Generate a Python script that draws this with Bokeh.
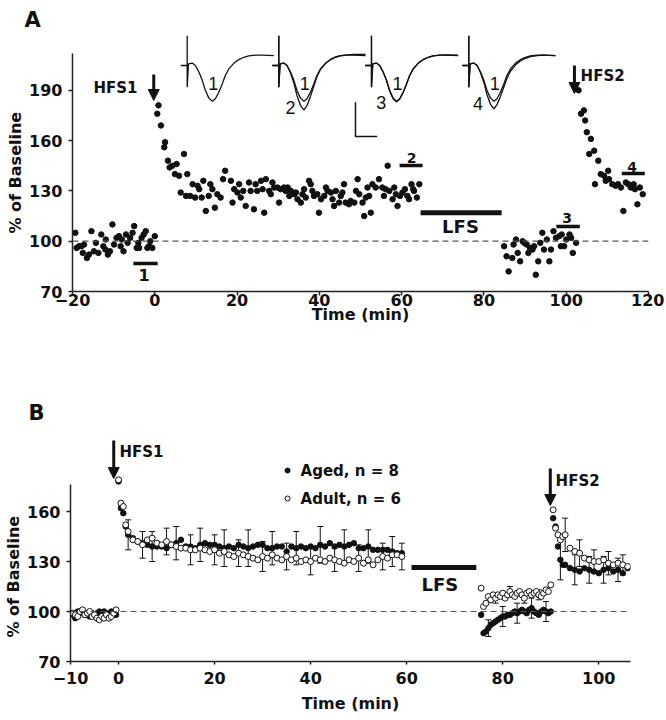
from bokeh.plotting import figure
from bokeh.models import (Range1d, FixedTicker, Span, Arrow, NormalHead, Label, Title,
                          ColumnDataSource, Whisker, TeeHead)
from bokeh.embed import file_html
from bokeh.resources import INLINE

FONT = "DejaVu Sans"
INK = "#111111"

# ======================= Panel A data (single experiment) =======================
a_baseline = [(-19.3,105),(-19.0,96),(-18.4,97),(-17.8,97),(-17.5,93),(-17.2,98),(-16.5,90),
              (-16.0,92),(-15.4,106),(-14.8,94),(-14.3,99),(-13.7,93),(-13.0,104),(-12.5,97),
              (-12.0,95),(-11.9,101),(-11.4,92),(-10.9,94),(-10.3,110),(-9.9,98),(-9.3,102),
              (-8.7,103),(-8.3,97),(-8.0,101),(-7.6,94),(-7.0,104),(-6.6,99),(-6.0,102),
              (-5.4,105),(-5.0,109),(-4.4,96),(-4.0,99),(-3.8,96),(-3.2,102),(-2.7,104),
              (-2.2,106),(-1.8,96),(-1.4,97),(-1.1,100),(-0.6,96),(0.0,103)]
a_after_hfs1 = [(0.6,176),(0.9,181),(1.5,169),(2.3,156),(2.5,159),(3.2,148),(3.6,144),(4.3,145),
                (4.9,140),(5.3,146),(5.9,139),(6.3,129),(7.1,152),(7.6,127),(7.9,140),(8.6,127),
                (9.2,134),(9.8,126),(10.4,133),(10.8,131),(11.4,126),(11.8,136),(12.4,118),
                (13.1,127),(13.5,134),(14.0,131),(14.6,120),(15.2,128),(16.0,126),(16.6,137),
                (17.1,142),(18.5,136),(18.9,123),(19.3,131),(20.1,129),(20.5,134),(20.9,126),
                (21.5,130),(22.1,121),(22.9,135),(23.3,130),(24.1,119),(24.5,134),(24.9,130),
                (25.8,136),(26.2,131),(26.6,117),(27.0,137),(27.8,130),(28.2,128),(28.6,135),
                (29.0,132),(29.8,132),(30.2,123),(30.6,131),(31.4,132),(31.8,130),(32.3,132),
                (32.7,127),(33.1,130),(33.9,128),(34.3,129),(34.7,125),(35.5,123),(35.9,128),
                (36.3,131),(36.7,126),(37.5,136),(37.9,134),(38.3,130),(38.7,127),(39.5,128),
                (39.9,117),(40.4,125),(41.2,127),(41.6,132),(42.0,130),(42.8,129),(43.2,125),
                (43.6,121),(44.0,130),(44.8,123),(45.2,127),(45.6,129),(46.0,134),(46.4,123),
                (47.2,122),(47.6,124),(48.5,123),(48.9,130),(49.3,137),(49.7,128),(50.5,123),
                (50.9,115),(51.3,126),(51.7,132),(52.1,127),(52.5,117),(52.9,134),(53.7,132),
                (54.5,137),(55.3,132),(55.7,127),(56.1,131),(56.6,145),(57.0,130),(57.8,125),
                (58.2,132),(58.6,128),(59.0,121),(59.6,127),(60.2,129),(60.8,131),(61.4,127),
                (61.8,125),(62.4,134),(62.8,131),(63.0,130),(63.7,126),(64.3,134)]
a_after_lfs = [(84.9,97),(85.5,91),(86.0,82),(86.9,90),(87.2,98),(87.8,101),(88.2,93),(88.8,88),
               (89.4,100),(89.8,99),(90.4,98),(90.8,93),(91.2,96),(91.8,95),(92.2,97),(92.6,80),
               (93.2,88),(93.7,99),(94.2,105),(94.6,95),(95.3,101),(95.9,88),(96.3,95),(96.9,106),
               (97.5,102),(98.3,103),(98.7,97),(98.9,104),(99.5,97),(100.0,101),(100.8,104),
               (101.2,102),(101.6,93),(102.4,99)]
a_after_hfs2 = [(103.0,190),(103.6,176),(104.3,178),(104.6,172),(105.0,165),(106.0,161),(106.8,154),
                (105.6,152),(107.8,148),(108.4,140),(109.2,139),(110.2,142),(109.6,136),(110.4,137),
                (107.0,134),(111.2,134),(112.0,133),(112.6,134),(113.3,132),(113.9,118),(114.5,135),
                (115.1,134),(115.7,132),(116.4,134),(116.7,131),(117.3,122),(117.9,132),(118.6,128)]

a_points = a_baseline + a_after_hfs1 + a_after_lfs + a_after_hfs2
a_time = [t for t, v in a_points]
a_pct = [v for t, v in a_points]

# sampling windows 1-4 (min) and their marker levels
a_win_start = [-5.2, 59.5, 97.6, 113.5]
a_win_end = [0.7, 65.1, 103.3, 119.1]
a_win_level = [86.7, 145.1, 108.8, 140.4]
a_win_label = ["1", "2", "3", "4"]
a_win_label_t = [-2.6, 62.4, 100.2, 116.0]
a_win_label_v = [80.1, 149.9, 114.1, 144.5]
a_lfs = (64.6, 84.3)
a_lfs_level = 117.0

# example fEPSP traces (ms, mV)
tr_ms = [-1.5, 0.0, 0.0, 0.0, 0.3, 1.15, 1.9, 2.7, 3.5, 4.2, 5.0, 5.8, 6.5, 7.3, 8.1, 8.8,
         9.6, 10.8, 11.9, 13.1, 14.2, 15.8, 17.3, 20.0]
tr_mv_1 = [0, 0, 0.87, -0.63, 0.05, 0.07, 0.0, -0.19, -0.44, -0.73, -0.95, -1.04, -0.97, -0.78,
           -0.53, -0.29, -0.10, 0.07, 0.17, 0.24, 0.28, 0.30, 0.30, 0.29]
tr_mv_2 = [0, 0, 0.87, -0.63, 0.05, 0.07, 0.0, -0.22, -0.52, -0.88, -1.16, -1.29, -1.17, -0.90,
           -0.60, -0.33, -0.12, 0.06, 0.17, 0.25, 0.29, 0.31, 0.32, 0.32]
tr_mv_3 = [0, 0, 0.87, -0.63, 0.05, 0.07, 0.0, -0.19, -0.45, -0.75, -0.97, -1.06, -0.98, -0.79,
           -0.54, -0.30, -0.11, 0.07, 0.17, 0.24, 0.28, 0.30, 0.31, 0.30]
tr_mv_4 = [0, 0, 0.87, -0.63, 0.05, 0.07, 0.0, -0.21, -0.50, -0.85, -1.13, -1.26, -1.14, -0.90,
           -0.62, -0.38, -0.17, 0.02, 0.13, 0.21, 0.26, 0.29, 0.30, 0.29]
tr_pairs = [(tr_mv_1, None), (tr_mv_1, tr_mv_2), (tr_mv_1, tr_mv_3), (tr_mv_1, tr_mv_4)]
tr_names = ["2", "3", "4"]
scale_bar_mv = 1.0
scale_bar_ms = 5.0

# ======================= Panel B data (group means) =======================
b_base_t = [-9.5,-9,-8.5,-8,-7.5,-7,-6.5,-6,-5.5,-5,-4.5,-4,-3.5,-3,-2.5,-2,-1.5,-1,-0.5]
b_aged_base = [98,96,100,100,99,98,98,97,99,98,99,100,99,100,98,99,100,98,98]
b_adult_base = [99,98,97,100,101,98,99,100,97,98,96,95,97,96,98,96,97,99,101]

b_hfs1_t = [0, 0.5, 1, 1.5, 2] + list(range(3, 60))
b_aged_hfs1 = [178,162,159,151,146,
               144,142,141,140,139,139,139,138,140,141,
               143,139,139,138,140,141,140,140,139,138,
               139,138,140,139,138,139,140,140,138,138,
               139,139,136,139,138,139,138,139,138,140,
               139,141,139,140,139,140,141,138,138,139,
               137,137,137,137,136,135,135]
b_adult_hfs1 = [179,165,163,152,148,
                143,142,140,143,144,141,140,142,140,139,
                138,138,137,137,138,137,136,137,135,136,
                134,133,135,134,133,132,131,133,132,134,
                132,131,133,131,132,130,131,130,132,131,
                130,132,131,130,129,131,130,132,129,131,
                128,131,133,132,134,134,133]

b_lfs_t = [75.5 + 0.5 * i for i in range(30)]
b_aged_lfs = [98,87,88,90,92,93,94,95,96,97,97,98,98,99,100,99,100,101,100,99,
              101,102,100,99,98,100,101,100,99,100]
b_adult_lfs = [114,103,105,109,107,110,108,110,109,111,108,110,112,110,109,111,112,110,108,111,
               112,110,111,112,110,109,111,113,112,116]

b_hfs2_t = [90.5,91,91.5,92,92.5,93,94,95,96,97,98,99,100,101,102,103,104,105,106]
b_aged_hfs2 = [156,151,139,131,128,128,126,125,124,126,125,124,123,125,126,124,125,123,126]
b_adult_hfs2 = [161,150,146,143,145,146,138,136,135,132,131,130,130,131,129,128,129,128,127]

b_aged_err_t = [2,7,12,17,22,27,32,37,42,47,52,57,77,80,83,86,89,92,95,98,101,104]
b_aged_sem = [9,9,10,10,11,11,10,10,11,10,10,9,5,6,6,6,6,12,9,8,8,7]
b_adult_err_t = [5,10,15,20,25,30,35,40,45,50,55,59,78.5,81.5,84.5,87.5,93,96,99,102,105]
b_adult_sem = [8,8,9,9,8,9,8,8,7,8,8,8,3,3,3,3,10,8,7,7,6]

b_lfs = (61.0, 74.5)
b_lfs_level = 126.4

b_t = b_base_t + b_hfs1_t + b_lfs_t + b_hfs2_t
b_aged = b_aged_base + b_aged_hfs1 + b_aged_lfs + b_aged_hfs2
b_adult = b_adult_base + b_adult_hfs1 + b_adult_lfs + b_adult_hfs2


def style_axes(p, xticks, yticks, xbounds, ybounds, xstand, ystand):
    p.xaxis.ticker = FixedTicker(ticks=xticks)
    p.yaxis.ticker = FixedTicker(ticks=yticks)
    p.xaxis.bounds = xbounds
    p.yaxis.bounds = ybounds
    for ax in (p.xaxis[0], p.yaxis[0]):
        ax.axis_line_width = 1.5
        ax.axis_line_color = "#222222"
        ax.major_tick_line_width = 1.5
        ax.major_tick_line_color = "#222222"
        ax.major_tick_in = 0
        ax.major_tick_out = 4
        ax.minor_tick_line_color = None
        ax.major_label_text_font = FONT
        ax.major_label_text_font_style = "bold"
        ax.major_label_text_font_size = "16px"
        ax.major_label_text_color = INK
        ax.axis_label_text_font = FONT
        ax.axis_label_text_font_style = "bold"
        ax.axis_label_text_font_size = "16px"
        ax.axis_label_text_color = INK
    p.xaxis.major_label_standoff = xstand
    p.yaxis.major_label_standoff = ystand
    p.grid.visible = False
    p.outline_line_color = None
    p.background_fill_color = "white"
    p.border_fill_color = "white"


def y_title(p, s, offset):
    # vertical axis title, anchored at the frame bottom and lifted by `offset` px
    p.add_layout(Title(text=s, align="left", offset=offset, standoff=3,
                       text_font=FONT, text_font_size="16px", text_font_style="bold",
                       text_color=INK), "left")


def panel_title(p, s, offset, standoff):
    p.title.text = s
    p.title.align = "left"
    p.title.offset = offset
    p.title.standoff = standoff
    p.title.text_font = FONT
    p.title.text_font_size = "21px"
    p.title.text_font_style = "bold"
    p.title.text_color = INK


def txt(p, x, y, s, size, align="left", baseline="middle", bold=True, font=FONT, **kw):
    p.add_layout(Label(x=x, y=y, text=s, text_font=font, text_font_size=size,
                       text_font_style="bold" if bold else "normal", text_color=INK,
                       text_align=align, text_baseline=baseline, **kw))


def arrow(p, x, y0, y1):
    p.add_layout(Arrow(end=NormalHead(size=11, fill_color=INK, line_color=INK, line_width=1),
                       x_start=x, y_start=y0, x_end=x, y_end=y1,
                       line_width=3, line_color=INK))


# ======================= Figure A =======================
pA = figure(width=664, height=334, x_range=Range1d(-20, 120), y_range=Range1d(70, 223.25),
            output_backend="svg", toolbar_location=None,
            min_border_left=72, min_border_right=16, min_border_top=34, min_border_bottom=43)
style_axes(pA, [-20, 0, 20, 40, 60, 80, 100, 120], [70, 100, 130, 160, 190],
           (-20, 120), (70, 212), -2, 6)
panel_title(pA, "A", -48, 5)
pA.xaxis.axis_label = "Time (min)"
pA.xaxis.axis_label_standoff = -4
y_title(pA, "% of Baseline", 58)

pA.add_layout(Span(location=100, dimension="width", line_dash="6 4", line_color="#555555",
                   line_width=1.2))
pA.scatter(a_time, a_pct, size=5.5, color=INK)

pA.segment(x0=a_win_start, y0=a_win_level, x1=a_win_end, y1=a_win_level,
           line_width=3.5, line_color=INK, line_cap="butt")
for lab, lt, lv in zip(a_win_label, a_win_label_t, a_win_label_v):
    txt(pA, lt, lv, lab, "16px" if lab == "1" else "14px", align="center")
pA.segment(x0=[a_lfs[0]], y0=[a_lfs_level], x1=[a_lfs[1]], y1=[a_lfs_level],
           line_width=5, line_color=INK, line_cap="butt")
txt(pA, 74.3, 108.5, "LFS", "18px", align="center")

arrow(pA, -0.25, 199.4, 183.9)
arrow(pA, 102.0, 204.8, 188.1)
txt(pA, -4.2, 191.6, "HFS1", "15px", align="right")
txt(pA, 103.5, 198.8, "HFS2", "15px", align="left")

# inset traces on their own ms / mV scales
pA.extra_x_ranges = {"ms": Range1d(-26.47, 106.46)}
pA.extra_y_ranges = {"mv": Range1d(-6.583, 0.903)}
trace_offsets = [0.0, 21.14, 42.53, 64.99]
for off, (ref, cur) in zip(trace_offsets, tr_pairs):
    xs = [m + off for m in tr_ms]
    pA.line(xs, ref, line_color=INK, line_width=1.3, x_range_name="ms", y_range_name="mv")
    if cur is not None:
        pA.line(xs, cur, line_color=INK, line_width=1.3, x_range_name="ms", y_range_name="mv")
    pA.add_layout(Label(x=off + 6.0, y=-0.53, text="1", text_font="Liberation Sans",
                        text_font_size="18px", text_color=INK, text_align="center",
                        text_baseline="middle", x_range_name="ms", y_range_name="mv"))
label_pos = [(21.14 + 2.7, -1.21), (42.53 + 2.27, -1.07), (64.99 + 2.12, -1.12)]
for name, (lx, ly) in zip(tr_names, label_pos):
    pA.add_layout(Label(x=lx, y=ly, text=name, text_font="Liberation Sans",
                        text_font_size="18px", text_color=INK, text_align="center",
                        text_baseline="middle", x_range_name="ms", y_range_name="mv"))
sb_x, sb_y = 38.84, -2.07
pA.line([sb_x, sb_x, sb_x + scale_bar_ms], [sb_y + scale_bar_mv, sb_y, sb_y],
        line_color=INK, line_width=1.5, x_range_name="ms", y_range_name="mv")

# ======================= Figure B =======================
pB = figure(width=664, height=385, x_range=Range1d(-10, 106.6), y_range=Range1d(70, 211.6),
            output_backend="svg", toolbar_location=None,
            min_border_left=70, min_border_right=34, min_border_top=91, min_border_bottom=58)
style_axes(pB, [-10, 0, 20, 40, 60, 80, 100], [70, 100, 130, 160],
           (-10, 106.6), (70, 176), 7, 6)
panel_title(pB, "B", -42, 2)
pB.xaxis.axis_label = "Time (min)"
pB.xaxis.major_label_text_line_height = 1.0
pB.xaxis.axis_label_text_line_height = 1.0
pB.xaxis.axis_label_standoff = 7
pB.xaxis.major_tick_out = 3
y_title(pB, "% of Baseline", 24)

pB.add_layout(Span(location=100, dimension="width", line_dash="6 4", line_color="#555555",
                   line_width=1.2))

aged_lookup = dict(zip(b_t, b_aged))
adult_lookup = dict(zip(b_t, b_adult))
aged_c = [aged_lookup[t] for t in b_aged_err_t]
adult_c = [adult_lookup[t] for t in b_adult_err_t]
src_e1 = ColumnDataSource(dict(t=b_aged_err_t,
                               lo=[c - s for c, s in zip(aged_c, b_aged_sem)],
                               hi=[c + s for c, s in zip(aged_c, b_aged_sem)]))
src_e2 = ColumnDataSource(dict(t=b_adult_err_t,
                               lo=[c - s for c, s in zip(adult_c, b_adult_sem)],
                               hi=[c + s for c, s in zip(adult_c, b_adult_sem)]))
for src in (src_e1, src_e2):
    pB.add_layout(Whisker(source=src, base="t", upper="hi", lower="lo",
                          line_color=INK, line_width=1,
                          upper_head=TeeHead(size=6, line_color=INK, line_width=1),
                          lower_head=TeeHead(size=6, line_color=INK, line_width=1)))

pB.scatter(b_t, b_aged, size=5.5, color=INK)
pB.scatter(b_t, b_adult, size=6, fill_color="white", line_color=INK, line_width=1)

pB.segment(x0=[b_lfs[0]], y0=[b_lfs_level], x1=[b_lfs[1]], y1=[b_lfs_level],
           line_width=5, line_color=INK, line_cap="butt")
txt(pB, 66.9, 116.5, "LFS", "18px", align="center")

arrow(pB, -1.0, 202.6, 179.8)
arrow(pB, 89.9, 185.8, 163.6)
txt(pB, 0.2, 196.0, "HFS1", "15px", align="left")
txt(pB, 91.0, 178.6, "HFS2", "15px", align="left")

# legend
pB.scatter([35.2], [184.6], size=5, color=INK)
pB.scatter([35.2], [167.8], size=5, fill_color="white", line_color=INK, line_width=1)
txt(pB, 37.9, 184.6, "Aged, n = 8", "15px")
txt(pB, 37.9, 167.8, "Adult, n = 6", "15px")

# two independent roots, stacked, so that each panel keeps its own frame geometry
open("out.html", "w").write(file_html([pA, pB], INLINE))
